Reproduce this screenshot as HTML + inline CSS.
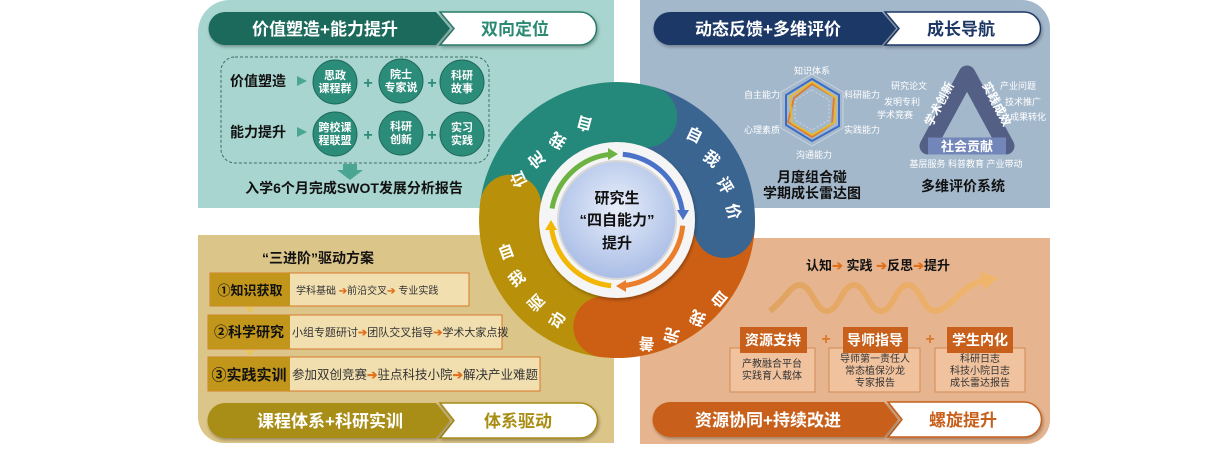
<!DOCTYPE html>
<html><head><meta charset="utf-8">
<style>
html,body{margin:0;padding:0;background:#fff;}
svg{display:block;font-family:"Liberation Sans","Noto Sans CJK SC",sans-serif;font-weight:bold;}
</style></head>
<body>
<svg width="1226" height="450" viewBox="0 0 1226 450" xmlns="http://www.w3.org/2000/svg">
<defs>
<radialGradient id="cg" cx="50%" cy="40%" r="60%">
<stop offset="0" stop-color="#e8eefa"/><stop offset="1" stop-color="#a9bde6"/>
</radialGradient>
<filter id="sh" x="-20%" y="-20%" width="140%" height="140%"><feDropShadow dx="1" dy="2" stdDeviation="1.5" flood-color="#000" flood-opacity="0.3"/></filter>
<linearGradient id="wave" x1="0" x2="1"><stop offset="0" stop-color="#e0a15c"/><stop offset="1" stop-color="#f0b46a"/></linearGradient>
</defs>

<!-- panels -->
<path d="M230,0 H614 V208 H198 V32 A32 32 0 0 1 230,0 Z" fill="#a8d5cf"/>
<path d="M640,0 H1022 A28 28 0 0 1 1050,28 V208 H640 Z" fill="#a4b8cc"/>
<path d="M198,235 H614 V443 H224 A26 26 0 0 1 198,417 Z" fill="#dcc588"/>
<path d="M640,238 H1050 V420 A24 24 0 0 1 1026,444 H640 Z" fill="#e6b58f"/>

<!-- TL header -->
<path d="M440,12 H580 A16.5 16.5 0 0 1 580,45 H440 L454,28.5 Z" fill="#fff" stroke="#2a7a6a" stroke-width="1.5" filter="url(#sh)"/>
<path d="M225,12 H436 L450,28.5 L436,45 H225 A16.5 16.5 0 0 1 225,12 Z" fill="#1f6a5c" filter="url(#sh)"/>
<text x="325" y="35" font-size="17" fill="#fff" text-anchor="middle">价值塑造+能力提升</text>
<text x="515" y="35" font-size="17" fill="#2a8a73" text-anchor="middle">双向定位</text>

<!-- TL content -->
<rect x="221" y="57" width="268" height="106" rx="14" fill="none" stroke="#3d6e66" stroke-width="1" stroke-dasharray="3,2"/>
<text x="230" y="86" font-size="14" fill="#111">价值塑造</text>
<text x="230" y="137" font-size="14" fill="#111">能力提升</text>
<polygon points="297,76 307,81 297,86" fill="#4aa593"/>
<polygon points="297,127 307,132 297,137" fill="#4aa593"/>
<g fill="#2c8c7a" stroke="#1f6a5c" stroke-width="1">
<circle cx="335" cy="82" r="22"/><circle cx="401" cy="81" r="22"/><circle cx="462" cy="82" r="22"/>
<circle cx="335" cy="134" r="22"/><circle cx="401" cy="133" r="22"/><circle cx="462" cy="134" r="22"/>
</g>
<g font-size="11" fill="#fff" text-anchor="middle">
<text x="335" y="79">思政</text><text x="335" y="92">课程群</text>
<text x="401" y="78">院士</text><text x="401" y="91">专家说</text>
<text x="462" y="79">科研</text><text x="462" y="92">故事</text>
<text x="335" y="131">跨校课</text><text x="335" y="144">程联盟</text>
<text x="401" y="130">科研</text><text x="401" y="143">创新</text>
<text x="462" y="131">实习</text><text x="462" y="144">实践</text>
</g>
<g font-size="16" fill="#2c8c7a" text-anchor="middle">
<text x="368" y="88">+</text><text x="432" y="88">+</text>
<text x="368" y="140">+</text><text x="432" y="140">+</text>
</g>
<polygon points="343,164 357,164 357,170 363,170 350,180 337,170 343,170" fill="#4aa593"/>
<text x="354" y="193" font-size="14" fill="#111" text-anchor="middle">入学6个月完成SWOT发展分析报告</text>

<!-- TR header -->
<path d="M885,12 H1024 A16.5 16.5 0 0 1 1024,45 H885 L899,28.5 Z" fill="#fff" stroke="#1d3766" stroke-width="1.5" filter="url(#sh)"/>
<path d="M670,12 H882 L896,28.5 L882,45 H670 A16.5 16.5 0 0 1 670,12 Z" fill="#1d3766" filter="url(#sh)"/>
<text x="768" y="35" font-size="17" fill="#fff" text-anchor="middle">动态反馈+多维评价</text>
<text x="961" y="35" font-size="17" fill="#1d3766" text-anchor="middle">成长导航</text>

<!-- radar -->
<g transform="translate(812,110)">
<polygon points="0,-36 31,-18 31,18 0,36 -31,18 -31,-18" fill="none" stroke="#c9d3df" stroke-width="1"/>
<polygon points="0,-20 17,-10 17,10 0,20 -17,10 -17,-10" fill="none" stroke="#c9d3df" stroke-width="1" stroke-dasharray="2,2"/>
<polygon points="0,-31 27,-15 27,16 0,31 -26,15 -26,-15" fill="none" stroke="#3b6bc6" stroke-width="2"/>
<polygon points="0,-26 22,-13 20,14 0,27 -24,12 -18,-12" fill="none" stroke="#e07b2a" stroke-width="1.8"/>
<polygon points="0,-28 24,-12 23,12 0,25 -20,13 -22,-13" fill="none" stroke="#e8b92a" stroke-width="1.8"/>
</g>
<g font-size="9" fill="#fff" text-anchor="middle" font-weight="normal">
<text x="812" y="74">知识体系</text>
<text x="862" y="98">科研能力</text>
<text x="862" y="133">实践能力</text>
<text x="814" y="158">沟通能力</text>
<text x="762" y="133">心理素质</text>
<text x="762" y="98">自主能力</text>
</g>
<text x="812" y="182" font-size="14" fill="#111" text-anchor="middle">月度组合碰</text>
<text x="812" y="198" font-size="14" fill="#111" text-anchor="middle">学期成长雷达图</text>

<!-- triangle -->
<polygon points="967,74 1006,146 928,146" fill="none" stroke="#535f85" stroke-width="17" stroke-linejoin="round"/>
<line x1="928" y1="146" x2="1006" y2="146" stroke="#7286ba" stroke-width="17"/>
<text x="0" y="0" font-size="12" fill="#fff" text-anchor="middle" transform="translate(943,106) rotate(-62)">学术创新</text>
<text x="0" y="0" font-size="12" fill="#fff" text-anchor="middle" transform="translate(993,106) rotate(62)">实践成效</text>
<text x="967" y="151" font-size="13" fill="#fff" text-anchor="middle">社会贡献</text>
<g font-size="9" fill="#fff" font-weight="normal">
<text x="909" y="89" text-anchor="middle">研究论文</text>
<text x="902" y="105" text-anchor="middle">发明专利</text>
<text x="895" y="118" text-anchor="middle">学术竞赛</text>
<text x="1018" y="89" text-anchor="middle">产业问题</text>
<text x="1023" y="105" text-anchor="middle">技术推广</text>
<text x="1028" y="120" text-anchor="middle">成果转化</text>
<text x="966" y="167" text-anchor="middle">基层服务 科普教育 产业带动</text>
</g>
<text x="963" y="191" font-size="14" fill="#111" text-anchor="middle">多维评价系统</text>

<!-- BL -->
<text x="318" y="263" font-size="14" fill="#111" text-anchor="middle">“三进阶”驱动方案</text>
<rect x="210" y="273" width="259" height="33" fill="#f1dfb0" stroke="#d9792b" stroke-width="1"/>
<rect x="210" y="273" width="80" height="33" fill="#c1961a"/>
<rect x="208" y="315" width="294" height="34" fill="#f1dfb0" stroke="#d9792b" stroke-width="1"/>
<rect x="208" y="315" width="82" height="34" fill="#c1961a"/>
<rect x="208" y="357" width="332" height="34" fill="#f1dfb0" stroke="#d9792b" stroke-width="1"/>
<rect x="208" y="357" width="82" height="34" fill="#c1961a"/>
<polygon points="245,307 255,307 250,313" fill="#e5c65e"/>
<polygon points="245,350 255,350 250,356" fill="#e5c65e"/>
<text x="250" y="295" font-size="13" fill="#111" text-anchor="middle">①知识获取</text>
<text x="249" y="337" font-size="14" fill="#111" text-anchor="middle">②科学研究</text>
<text x="249" y="380" font-size="15" fill="#111" text-anchor="middle">③实践实训</text>
<text x="296" y="294" font-size="10" fill="#333" font-weight="normal">学科基础 <tspan fill="#e0701c" font-weight="bold">➔</tspan>前沿交叉<tspan fill="#e0701c" font-weight="bold">➔</tspan> 专业实践</text>
<text x="292" y="336" font-size="11" fill="#333" font-weight="normal">小组专题研讨<tspan fill="#e0701c" font-weight="bold">➔</tspan>团队交叉指导<tspan fill="#e0701c" font-weight="bold">➔</tspan>学术大家点拨</text>
<text x="292" y="379" font-size="12.5" fill="#333" font-weight="normal">参加双创竞赛<tspan fill="#e0701c" font-weight="bold">➔</tspan>驻点科技小院<tspan fill="#e0701c" font-weight="bold">➔</tspan>解决产业难题</text>

<!-- BL header -->
<path d="M440,403 H580 A17.5 17.5 0 0 1 580,438 H440 L454,420.5 Z" fill="#fff" stroke="#a38a12" stroke-width="1.5" filter="url(#sh)"/>
<path d="M225,403 H436 L450,420.5 L436,438 H225 A17.5 17.5 0 0 1 225,403 Z" fill="#a88d12" filter="url(#sh)"/>
<text x="330" y="427" font-size="17" fill="#fff" text-anchor="middle">课程体系+科研实训</text>
<text x="518" y="427" font-size="17" fill="#a88d12" text-anchor="middle">体系驱动</text>

<!-- BR -->
<text x="878" y="270" font-size="13" fill="#111" text-anchor="middle">认知<tspan fill="#e0701c">➔</tspan> 实践 <tspan fill="#e0701c">➔</tspan>反思<tspan fill="#e0701c">➔</tspan>提升</text>
<path d="M770,311 C785,300 790,285 800,285 C812,285 815,311 827,311 C839,311 842,285 854,285 C866,285 869,311 881,311 C893,311 896,285 908,285 C920,285 923,311 935,311 C950,311 960,285 985,280" fill="none" stroke="url(#wave)" stroke-width="6" opacity="0.9"/>
<polygon points="980,272 998,278 984,290" fill="#f0b46a"/>
<g fill="#f1c29e" stroke="#d08a55" stroke-width="1">
<rect x="730" y="348" width="85" height="44"/>
<rect x="829" y="348" width="91" height="44"/>
<rect x="935" y="348" width="90" height="44"/>
</g>
<g fill="#c8601c">
<rect x="740" y="327" width="67" height="26"/>
<rect x="843" y="327" width="65" height="26"/>
<rect x="947" y="327" width="66" height="26"/>
</g>
<g font-size="14" fill="#fff" text-anchor="middle">
<text x="773" y="345">资源支持</text><text x="875" y="345">导师指导</text><text x="980" y="345">学生内化</text>
</g>
<g font-size="16" fill="#d9792b" text-anchor="middle"><text x="826" y="344">+</text><text x="930" y="344">+</text></g>
<g font-size="10" fill="#333" text-anchor="middle" font-weight="normal">
<text x="772" y="367">产教融合平台</text><text x="772" y="379">实践育人载体</text>
<text x="875" y="362">导师第一责任人</text><text x="875" y="374">常态植保沙龙</text><text x="875" y="386">专家报告</text>
<text x="980" y="362">科研日志</text><text x="980" y="374">科技小院日志</text><text x="980" y="386">成长雷达报告</text>
</g>
<!-- BR header -->
<path d="M888,402 H1024 A17.5 17.5 0 0 1 1024,437 H888 L902,419.5 Z" fill="#fff" stroke="#c5601c" stroke-width="1.5" filter="url(#sh)"/>
<path d="M670,402 H884 L898,419.5 L884,437 H670 A17.5 17.5 0 0 1 670,402 Z" fill="#c8601c" filter="url(#sh)"/>
<text x="768" y="426" font-size="17" fill="#fff" text-anchor="middle">资源协同+持续改进</text>
<text x="963" y="426" font-size="17" fill="#c8601c" text-anchor="middle">螺旋提升</text>

<!-- central ring -->
<path d="M480.4,200.8 A138 138 0 0 1 655.1,87.4 L638.3,146 A77 77 0 0 0 540.8,209.3 Z" fill="#24897a"/>
<path d="M655.1,87.4 A138 138 0 0 1 754.7,229.7 L693.8,225.4 A77 77 0 0 0 638.3,146 Z" fill="#3a6590"/>
<path d="M754.7,229.7 A138 138 0 0 1 600.2,357 L607.6,296.5 A77 77 0 0 0 693.8,225.4 Z" fill="#cc5f14"/>
<path d="M600.2,357 A138 138 0 0 1 480.4,200.8 L540.8,209.3 A77 77 0 0 0 607.6,296.5 Z" fill="#b9900a"/>
<circle cx="510.6" cy="205.1" r="30.5" fill="#b9900a"/>
<circle cx="646.7" cy="116.7" r="30.5" fill="#24897a"/>
<circle cx="724.2" cy="227.5" r="30.5" fill="#3a6590"/>
<circle cx="603.9" cy="326.7" r="30.5" fill="#cc5f14"/>
<circle cx="617" cy="220" r="78" fill="#f5f5f5" filter="url(#sh)"/>
<g fill="none" stroke-width="5">
<path d="M552,208.5 A66 66 0 0 1 611.2,154.3" stroke="#6cb344"/>
<path d="M622.8,154.3 A66 66 0 0 1 682.7,214.3" stroke="#4a72c8"/>
<path d="M682.7,225.7 A66 66 0 0 1 622.8,285.7" stroke="#ea7e2c"/>
<path d="M611.2,285.7 A66 66 0 0 1 551.3,225.7" stroke="#f2b705"/>
</g>
<polygon points="608,148 618,154 608,160" fill="#6cb344"/>
<polygon points="677,210 683,220 689,210" fill="#4a72c8"/>
<polygon points="626,280 616,286 626,292" fill="#ea7e2c"/>
<polygon points="545,230 551,220 557,230" fill="#f2b705"/>
<circle cx="617" cy="220" r="59" fill="url(#cg)" stroke="#d8d8d8" stroke-width="2"/>
<g font-size="15" fill="#111" text-anchor="middle">
<text x="617" y="203">研究生</text><text x="617" y="225">“四自能力”</text><text x="617" y="248">提升</text>
</g>
<g font-size="16" fill="#fff" text-anchor="middle">
<text transform="translate(586,118) rotate(-165)">自</text>
<text transform="translate(561,136) rotate(-145)">我</text>
<text transform="translate(541,156) rotate(-130)">定</text>
<text transform="translate(524,177) rotate(-115)">位</text>
<text transform="translate(692,140) rotate(25)">自</text>
<text transform="translate(708,163) rotate(40)">我</text>
<text transform="translate(720,188) rotate(60)">评</text>
<text transform="translate(728,213) rotate(75)">价</text>
<text transform="translate(723,295) rotate(-140)">自</text>
<text transform="translate(700,313) rotate(-155)">我</text>
<text transform="translate(673,330) rotate(-165)">完</text>
<text transform="translate(647,338) rotate(-175)">善</text>
<text transform="translate(508,257) rotate(-20)">自</text>
<text transform="translate(520,283) rotate(-35)">我</text>
<text transform="translate(540,307) rotate(-45)">驱</text>
<text transform="translate(562,323) rotate(-60)">动</text>
</g>
</svg>
</body></html>
